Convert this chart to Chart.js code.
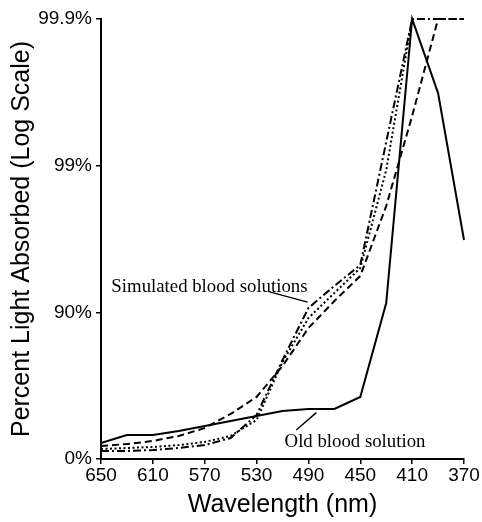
<!DOCTYPE html>
<html><head><meta charset="utf-8">
<script src="https://cdn.jsdelivr.net/npm/chart.js@4/dist/chart.umd.min.js"></script>
<style>html,body{margin:0;padding:0;background:#fff;}canvas{display:block;}</style>
</head><body>
<canvas id="c" width="482" height="522"></canvas>
<script>
// Wavelength (nm) sample points
const wavelengths = [650,630,610,590,570,550,530,510,490,470,450,430,410,390,370];
// Absorbance units (0 = 0%, 1 = 90%, 2 = 99%, 3 = 99.9% light absorbed)
const oldBlood   = [0.109,0.164,0.164,0.191,0.225,0.259,0.293,0.327,0.341,0.341,0.423,1.064,3.0,2.495,1.493];
const simDashed  = [0.089,0.102,0.123,0.157,0.211,0.307,0.423,0.634,0.893,1.077,1.248,1.725,2.339,3.0,3.0];
const simDotted  = [0.068,0.075,0.082,0.095,0.116,0.157,0.266,0.661,0.961,1.132,1.302,1.970,3.0,null,null];
const simDashDot = [0.055,0.055,0.061,0.075,0.095,0.143,0.300,0.675,1.030,1.180,1.323,2.161,3.0,3.0,3.0];
const xTicks = [650,610,570,530,490,450,410,370];
const yTickLabels = ['0%','90%','99%','99.9%'];

const pts = arr => wavelengths.map((w,i)=>({x:w,y:arr[i]}));

const notes = {
  id:'notes',
  beforeDraw(chart){
    const c = chart.ctx; c.save(); c.fillStyle='#fff'; c.fillRect(0,0,chart.width,chart.height); c.restore();
  },
  afterDatasetsDraw(chart){
    const {ctx, scales:{x,y}} = chart;
    const P = (a,b)=>[x.getPixelForValue(a), y.getPixelForValue(b)];
    ctx.save();
    ctx.strokeStyle='#000'; ctx.lineWidth=1.4; ctx.setLineDash([]);
    const seg=(a,b,c2,d)=>{const p=P(a,b),q=P(c2,d);ctx.beginPath();ctx.moveTo(p[0],p[1]);ctx.lineTo(q[0],q[1]);ctx.stroke();};
    seg(520,1.139,490.6,1.070);
    seg(499.4,0.198,483.9,0.316);
    ctx.fillStyle='#000'; ctx.textBaseline='middle'; ctx.textAlign='left';
    ctx.font='18.8px "Liberation Serif", "Times New Roman", serif';
    let p=P(642,1.173); ctx.fillText('Simulated blood solutions',p[0],p[1]);
    p=P(508.4,0.118); ctx.fillText('Old blood solution',p[0],p[1]);
    ctx.restore();
  }
};

const axisFont = {family:'"Liberation Sans", Arial, sans-serif', size:19};
const titleFont = {family:'"Liberation Sans", Arial, sans-serif', size:25};
const common = {
  grid:{display:true, drawOnChartArea:false, drawTicks:true, tickLength:5, color:'#000', lineWidth:1.5},
  border:{display:true, color:'#000', width:2}
};

new Chart(document.getElementById('c'), {
  type:'line',
  data:{datasets:[
    {label:'Old blood solution', data:pts(oldBlood), borderColor:'#000', borderWidth:2, borderDash:[], pointRadius:0, tension:0, clip:false},
    {label:'Simulated (dashed)', data:pts(simDashed), borderColor:'#000', borderWidth:2, borderDash:[7,4], pointRadius:0, tension:0, clip:false},
    {label:'Simulated (dotted)', data:pts(simDotted), borderColor:'#000', borderWidth:2, borderDash:[2,2.5], pointRadius:0, tension:0, clip:false, spanGaps:false},
    {label:'Simulated (dash-dot)', data:pts(simDashDot), borderColor:'#000', borderWidth:2, borderDash:[8,3,2,3], pointRadius:0, tension:0, clip:false}
  ]},
  options:{
    responsive:false, animation:false, devicePixelRatio:1,
    layout:{padding:{top:19,right:18,left:0,bottom:0}},
    plugins:{legend:{display:false}, tooltip:{enabled:false}},
    scales:{
      x:{type:'linear', min:370, max:650, reverse:true, ...common,
        afterBuildTicks:s=>{s.ticks = xTicks.map(v=>({value:v}));},
        ticks:{font:axisFont, color:'#000', padding:0, maxRotation:0, autoSkip:false},
        title:{display:true, text:'Wavelength (nm)', font:titleFont, color:'#000', padding:{top:0,bottom:2}},
        afterFit:s=>{s.height=63; s.paddingLeft=0; s.paddingRight=0;}
      },
      y:{type:'linear', min:0, max:3, ...common,
        afterBuildTicks:s=>{s.ticks = yTickLabels.map((t,i)=>({value:i}));},
        ticks:{font:axisFont, color:'#000', padding:4, callback:(v,i)=>yTickLabels[i]},
        title:{display:true, text:'Percent Light Absorbed (Log Scale)', font:titleFont, color:'#000', padding:{top:7,bottom:0}},
        afterFit:s=>{s.width=101; s.paddingTop=0; s.paddingBottom=0;}
      }
    }
  },
  plugins:[notes]
});
</script>
</body></html>
